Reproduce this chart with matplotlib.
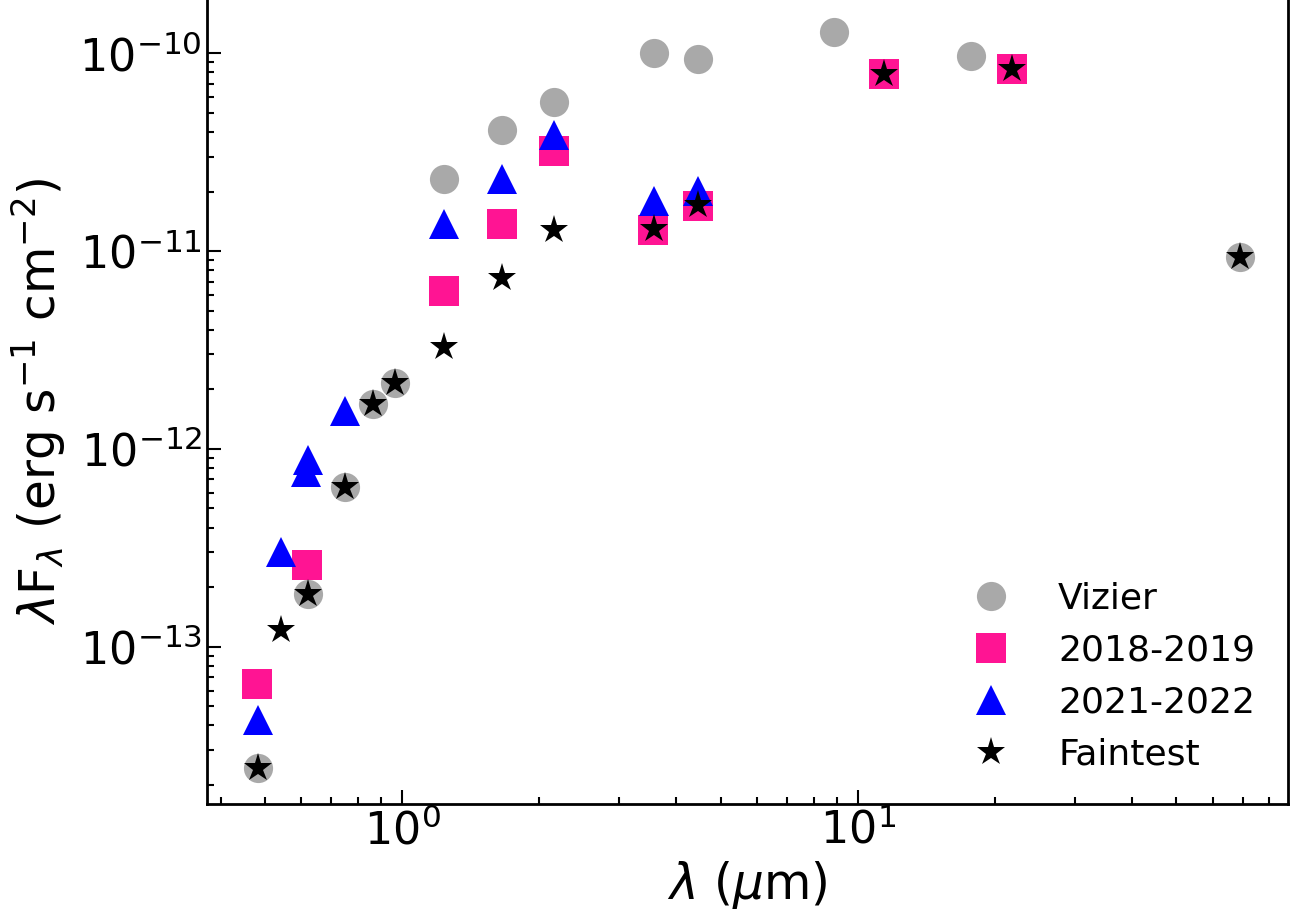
import numpy as np
import matplotlib
matplotlib.use("Agg")
import matplotlib.pyplot as plt

# Vizier archival photometry
wl_viz = [0.483, 0.622, 0.75, 0.864, 0.965, 1.235, 1.66, 2.16, 3.57, 4.46, 8.86, 17.7, 68.8]
f_viz = [2.43e-14, 1.84e-13, 6.4e-13, 1.69e-12, 2.16e-12, 2.32e-11, 4.11e-11, 5.7e-11,
         1.0e-10, 9.4e-11, 1.28e-10, 9.7e-11, 9.3e-12]

# 2018-2019 epoch
wl_1819 = [0.48, 0.62, 1.235, 1.66, 2.16, 3.55, 4.46, 11.4, 21.8]
f_1819 = [6.5e-14, 2.6e-13, 6.27e-12, 1.37e-11, 3.22e-11, 1.28e-11, 1.69e-11, 7.9e-11, 8.3e-11]

# 2021-2022 epoch
wl_2122 = [0.483, 0.543, 0.616, 0.623, 0.75, 1.235, 1.66, 2.16, 3.57, 4.46]
f_2122 = [4.26e-14, 3.0e-13, 7.6e-13, 8.8e-13, 1.56e-12, 1.37e-11, 2.32e-11, 3.84e-11, 1.8e-11, 2.02e-11]

# faintest state
wl_faint = [0.483, 0.543, 0.622, 0.75, 0.864, 0.965, 1.235, 1.66, 2.16, 3.57, 4.46, 11.4, 21.8, 68.8]
f_faint = [2.43e-14, 1.22e-13, 1.84e-13, 6.4e-13, 1.69e-12, 2.16e-12, 3.26e-12, 7.3e-12, 1.28e-11,
           1.3e-11, 1.71e-11, 7.9e-11, 8.3e-11, 9.3e-12]

fig = plt.figure(figsize=(13.02, 9.21), dpi=100)
ax = fig.add_axes([0.159, 0.127, 0.83, 0.875])

ms = 21
ax.plot(wl_viz, f_viz, 'o', color='darkgray', ms=ms, mew=0, label='Vizier')
ax.plot(wl_1819, f_1819, 's', color='deeppink', ms=ms, mew=0, label='2018-2019')
ax.plot(wl_2122, f_2122, '^', color='blue', ms=ms, mew=0, label='2021-2022')
ax.plot(wl_faint, f_faint, '*', color='black', ms=ms, mew=0, label='Faintest')

ax.set_xscale('log')
ax.set_yscale('log')
ax.set_xlim(0.3735, 87.7)
ax.set_ylim(1.6e-14, 1.9e-10)

ax.tick_params(which='both', direction='in', labelsize=32, width=1.5)
ax.tick_params(which='major', length=10)
ax.tick_params(which='minor', length=5)
for s in ax.spines.values():
    s.set_linewidth(2)

ax.set_xlabel(r'$\lambda$ ($\mu$m)', fontsize=35, labelpad=4)
ax.set_ylabel(r'$\lambda$F$_\lambda$ (erg s$^{-1}$ cm$^{-2}$)', fontsize=35, labelpad=8)

ax.legend(loc='lower right', frameon=False, fontsize=26, handletextpad=0.85,
          labelspacing=0.5, markerscale=1.0, borderaxespad=0.5)

fig.savefig('out.png', dpi=100)
